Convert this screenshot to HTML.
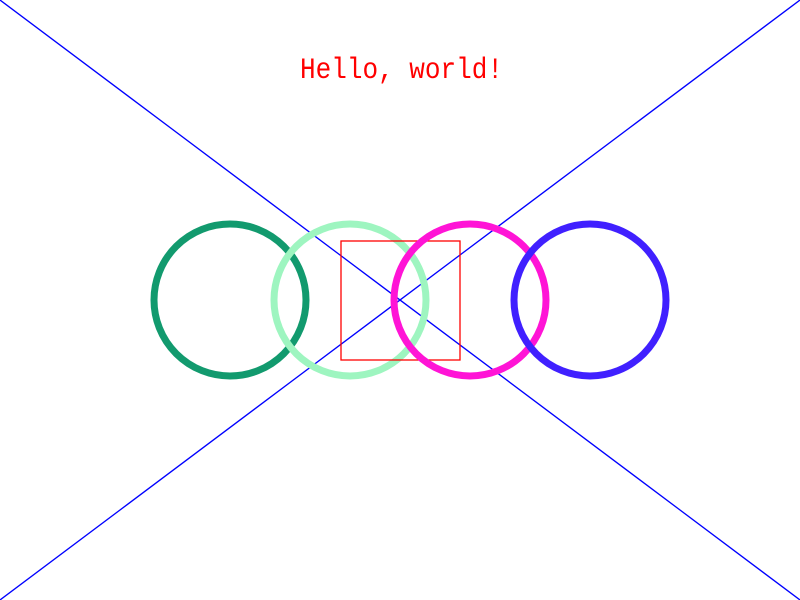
<!DOCTYPE html>
<html><head><meta charset="utf-8"><style>html,body{margin:0;padding:0;background:#fff}svg{display:block}</style></head>
<body>
<svg width="800" height="600" viewBox="0 0 800 600">
<rect x="0" y="0" width="800" height="600" fill="#fff"/>
<line x1="0" y1="0" x2="800" y2="600" stroke="#0000ff" stroke-width="1.3"/>
<line x1="0" y1="600" x2="800" y2="0" stroke="#0000ff" stroke-width="1.3"/>
<text x="300" y="78" font-size="30" fill="#ff0000" textLength="203" lengthAdjust="spacingAndGlyphs" font-family="'WenQuanYi Zen Hei','Liberation Mono',monospace">Hello, world!</text>
<circle cx="230" cy="300" r="76" fill="none" stroke="#129a6e" stroke-width="7"/>
<circle cx="350" cy="300" r="76" fill="none" stroke="#9ef5c0" stroke-width="7"/>
<rect x="341" y="241" width="119" height="119" fill="none" stroke="#ff0000" stroke-width="1.3"/>
<circle cx="470" cy="300" r="76" fill="none" stroke="#ff14d6" stroke-width="7"/>
<circle cx="590" cy="300" r="76" fill="none" stroke="#4020ff" stroke-width="7"/>
</svg>
</body></html>
